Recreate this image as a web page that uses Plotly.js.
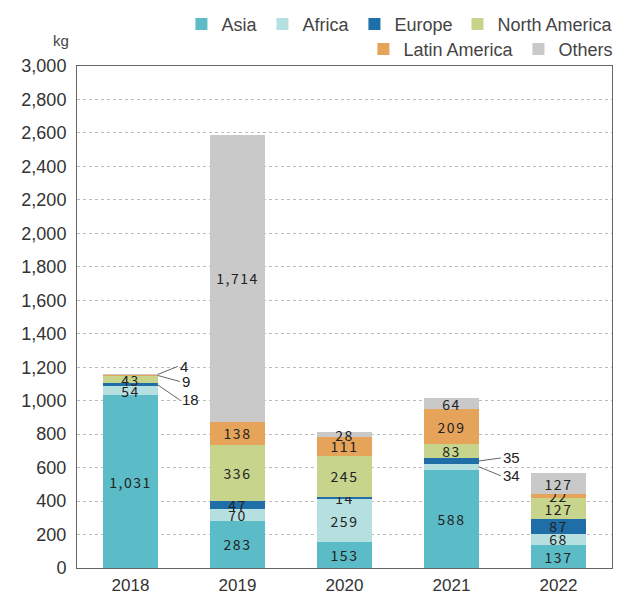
<!DOCTYPE html>
<html>
<head>
<meta charset="utf-8">
<script src="https://cdn.plot.ly/plotly-3.0.1.min.js"></script>
<style>
body{margin:0;background:#fff;}
#chart{width:621px;height:596px;}
.bartext{letter-spacing:1.5px;}
</style>
</head>
<body>
<div id="chart"></div>
<script>
const years = ['2018','2019','2020','2021','2022'];
const asia = [1031, 283, 153, 588, 137];
const africa = [54, 70, 259, 34, 68];
const europe = [18, 47, 14, 35, 87];
const northAmerica = [43, 336, 245, 83, 127];
const latinAmerica = [9, 138, 111, 209, 22];
const others = [4, 1714, 28, 64, 127];
const yTicks = [0,200,400,600,800,1000,1200,1400,1600,1800,2000,2200,2400,2600,2800,3000];

const seriesNames = ['Asia','Africa','Europe','North America','Latin America','Others'];
const seriesValues = [asia, africa, europe, northAmerica, latinAmerica, others];
const colors = ['#5bbcc7','#b6dfe0','#1f6ea8','#c6d58b','#e6a45b','#c9c9c9'];

// labels drawn outside with leader lines: [yearIndex, seriesIndex, dx, dy]
const outside = [[0,5,20,-8],[0,4,22,6],[0,2,22,15],[3,2,22,-3],[3,1,22,9]];

const traces = seriesNames.map((name, s) => {
  const vals = seriesValues[s];
  const txt = vals.map((v, i) => outside.some(o => o[0]===i && o[1]===s) ? '' : v.toLocaleString('en-US'));
  return {
    type: 'bar', name: name, x: years, y: vals,
    text: txt, textposition: 'inside', insidetextanchor: 'middle', textangle: 0,
    textfont: {color: '#222', size: 14, family: 'Noto Sans CJK JP'},
    marker: {color: colors[s]}, hoverinfo: 'none',
    legend: s < 4 ? 'legend' : 'legend2', width: 0.51,
    constraintext: 'none', cliponaxis: false
  };
});

const annotations = outside.map(o => {
  const [i, s, dx, dy] = o;
  let base = 0;
  for (let k = 0; k < s; k++) base += seriesValues[k][i];
  const mid = base + seriesValues[s][i] / 2;
  return {
    x: i + 0.255, y: mid, xref: 'x', yref: 'y',
    text: String(seriesValues[s][i]), showarrow: true, arrowhead: 0,
    arrowwidth: 1, arrowcolor: '#666', ax: dx, ay: dy, standoff: 0,
    xanchor: 'left', font: {size: 15, color: '#222', family: 'Liberation Sans'}
  };
});
annotations.push({
  xref: 'paper', yref: 'paper', x: -0.012, y: 1.03, xanchor: 'right', yanchor: 'bottom',
  text: 'kg', showarrow: false, font: {size: 15, color: '#444', family: 'Liberation Sans'}
});

const layout = {
  width: 621, height: 596,
  margin: {l: 77, r: 9, t: 66, b: 28, autoexpand: false},
  barmode: 'stack',
  paper_bgcolor: '#fff', plot_bgcolor: '#fff',
  font: {family: 'Liberation Sans', color: '#333'},
  uniformtext: {mode: 'show', minsize: 14},
  xaxis: {
    type: 'category', showline: true, mirror: true, linecolor: '#666', linewidth: 1,
    ticks: '', tickfont: {size: 17, color: '#333'}, showgrid: false, ticklabelstandoff: 2
  },
  yaxis: {
    range: [0, 3000], tickvals: yTicks, tickformat: ',', showline: true, mirror: true,
    linecolor: '#666', linewidth: 1, gridcolor: '#bbb', griddash: 'dot', gridwidth: 1,
    tickfont: {size: 18, color: '#333'}, ticks: '', zeroline: false, ticklabelstandoff: 6
  },
  legend: {
    orientation: 'h', x: 1.012, xanchor: 'right', y: 1.12, yanchor: 'top',
    font: {size: 18, color: '#444'}, itemwidth: 30, traceorder: 'normal', bgcolor: 'rgba(0,0,0,0)'
  },
  legend2: {
    orientation: 'h', x: 1.012, xanchor: 'right', y: 1.07, yanchor: 'top',
    font: {size: 18, color: '#444'}, itemwidth: 30, traceorder: 'normal', bgcolor: 'rgba(0,0,0,0)'
  },
  annotations: annotations,
  showlegend: true
};

Plotly.newPlot('chart', traces, layout, {displayModeBar: false, staticPlot: true});
</script>
</body>
</html>
